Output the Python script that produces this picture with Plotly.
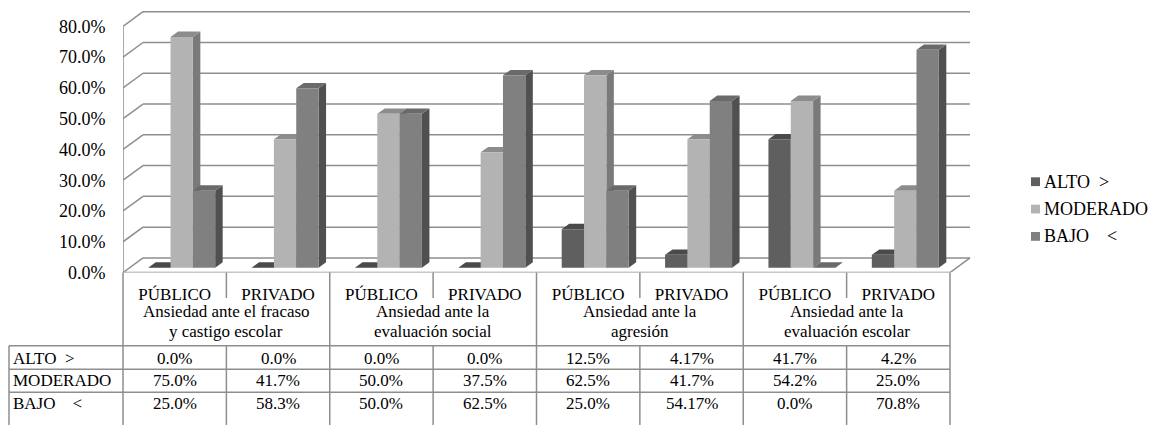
import plotly.graph_objects as go

# ---- data -------------------------------------------------------------
subcategorias = ["PÚBLICO", "PRIVADO", "PÚBLICO", "PRIVADO",
                 "PÚBLICO", "PRIVADO", "PÚBLICO", "PRIVADO"]
dimensiones = [
    ["Ansiedad ante el fracaso", "y castigo escolar"],
    ["Ansiedad ante la", "evaluación social"],
    ["Ansiedad ante la", "agresión"],
    ["Ansiedad ante la", "evaluación escolar"],
]
niveles = ["ALTO\u00a0\u00a0>", "MODERADO", "BAJO\u00a0\u00a0\u00a0\u00a0<"]
alto = [0.0, 0.0, 0.0, 0.0, 12.5, 4.17, 41.7, 4.2]
moderado = [75.0, 41.7, 50.0, 37.5, 62.5, 41.7, 54.2, 25.0]
bajo = [25.0, 58.3, 50.0, 62.5, 25.0, 54.17, 0.0, 70.8]
y_ticks = [0.0, 0.1, 0.2, 0.3, 0.4, 0.5, 0.6, 0.7, 0.8]

series = [alto, moderado, bajo]
# front / top / side shades for each level
caras = [
    ("#5f5f5f", "#4a4a4a", "#3d3d3d"),
    ("#b3b3b3", "#8c8c8c", "#7a7a7a"),
    ("#808080", "#6a6a6a", "#505050"),
]

# ---- geometry (pixels) ------------------------------------------------
W, H = 1150, 433
X0, COL, NCOL = 123, 103.375, 8          # front-left corner, column width
Y0, PXV = 279, 315                       # front floor line, px per 100 %
WALL_DX, WALL_DY = 20, 15                # depth of the 3-D box
BAR_DX, BAR_DY = 7, 5                    # bars sit slightly behind the front
DEP_DX, DEP_DY = 7.5, 5.5                # bar depth
BARGAP = 0.352
X_RIGHT, Y_TOP = 975, 8

ux, uy = 1 / COL, 1 / PXV
FONT = "Liberation Serif"
GRID = "#8e8e8e"
XR = X0 + COL * NCOL


def px(x):
    return x / W


def py(y):
    return 1 - y / H


fig = go.Figure()
shapes = []

# back wall gridlines and left wall diagonals
for v in y_ticks:
    shapes.append(dict(type="line", xref="x", yref="y", layer="below",
                       x0=WALL_DX * ux, x1=NCOL + WALL_DX * ux,
                       y0=v + WALL_DY * uy, y1=v + WALL_DY * uy,
                       line=dict(color=GRID, width=1.5)))
    shapes.append(dict(type="line", xref="x", yref="y", layer="below",
                       x0=0, x1=WALL_DX * ux, y0=v, y1=v + WALL_DY * uy,
                       line=dict(color=GRID, width=1.5)))
# front vertical axis line, floor front edge and right floor edge
shapes.append(dict(type="line", xref="x", yref="y", layer="below",
                   x0=0, x1=0, y0=0, y1=y_ticks[-1],
                   line=dict(color=GRID, width=1.5)))
shapes.append(dict(type="line", xref="x", yref="y", layer="below",
                   x0=0, x1=NCOL, y0=0, y1=0,
                   line=dict(color=GRID, width=1.5)))
shapes.append(dict(type="line", xref="x", yref="y", layer="below",
                   x0=NCOL, x1=NCOL + WALL_DX * ux, y0=0, y1=WALL_DY * uy,
                   line=dict(color=GRID, width=1.5)))

# bar tops and sides (fronts are the bar traces)
w = (1 - BARGAP) / 3
ddx, ddy = DEP_DX * ux, DEP_DY * uy
for i in range(NCOL):
    for j, vals in enumerate(series):
        x0 = i + 0.5 + BAR_DX * ux - (1 - BARGAP) / 2 + j * w
        x1 = x0 + w
        yb = BAR_DY * uy
        yt = yb + vals[i] / 100
        _, top, side = caras[j]
        shapes.append(dict(
            type="path", xref="x", yref="y", layer="below",
            path=f"M{x1},{yb} L{x1},{yt} L{x1 + ddx},{yt + ddy} L{x1 + ddx},{yb + ddy} Z",
            fillcolor=side, line=dict(width=0)))
        shapes.append(dict(
            type="path", xref="x", yref="y", layer="below",
            path=f"M{x0},{yt} L{x1},{yt} L{x1 + ddx},{yt + ddy} L{x0 + ddx},{yt + ddy} Z",
            fillcolor=top, line=dict(width=0)))

for j, vals in enumerate(series):
    fig.add_trace(go.Bar(
        x=[i + 0.5 + BAR_DX * ux for i in range(NCOL)],
        y=[v / 100 for v in vals],
        base=BAR_DY * uy,
        name=niveles[j],
        marker=dict(color=caras[j][0], line=dict(width=0)),
        showlegend=False,
    ))

# ---- data table -------------------------------------------------------
TBL = "#8e8e8e"
ROW_TOP, ROW_LINES, BOTTOM = 354, [378, 401.5], H + 2
LEFT_OUT = 9


def hline(y, xa, xb):
    shapes.append(dict(type="line", xref="paper", yref="paper",
                       x0=px(xa), x1=px(xb), y0=py(y), y1=py(y),
                       line=dict(color=TBL, width=1.5)))


def vline(x, ya, yb):
    shapes.append(dict(type="line", xref="paper", yref="paper",
                       x0=px(x), x1=px(x), y0=py(ya), y1=py(yb),
                       line=dict(color=TBL, width=1.5)))


hline(ROW_TOP, LEFT_OUT, XR)
for y in ROW_LINES:
    hline(y, LEFT_OUT, XR)
vline(LEFT_OUT, ROW_TOP, BOTTOM)
vline(X0, Y0, BOTTOM)
for k in range(1, NCOL + 1):
    xk = X0 + COL * k
    if k % 2 == 0:
        vline(xk, Y0, BOTTOM)
    else:
        vline(xk, Y0, 305)
        vline(xk, ROW_TOP, BOTTOM)

annotations = []
line_y = [318.5, 339]
for g, lines in enumerate(dimensiones):
    for r, txt in enumerate(lines):
        annotations.append(dict(
            xref="x", yref="paper", x=2 * g + 1, y=py(line_y[r]), text=txt,
            showarrow=False, xanchor="center", yanchor="middle",
            font=dict(family=FONT, size=17, color="#000")))

row_centers = [366.5, 390, 413.5]
for j, vals in enumerate(series):
    annotations.append(dict(
        xref="paper", yref="paper", x=px(LEFT_OUT + 2), y=py(row_centers[j]),
        text=niveles[j], showarrow=False, xanchor="left", yanchor="middle",
        font=dict(family=FONT, size=17, color="#000")))
    for i, v in enumerate(vals):
        annotations.append(dict(
            xref="x", yref="paper", x=i + 0.5, y=py(row_centers[j]),
            text=f"{v!r}%", showarrow=False, xanchor="center", yanchor="middle",
            font=dict(family=FONT, size=17, color="#000")))

# ---- legend -----------------------------------------------------------
leg_y = [186, 214, 242]
for j in range(3):
    shapes.append(dict(type="rect", xref="paper", yref="paper",
                       x0=px(1031), x1=px(1040),
                       y0=py(leg_y[j] + 4.5), y1=py(leg_y[j] - 4.5),
                       fillcolor=caras[j][0], line=dict(width=0)))
    annotations.append(dict(
        xref="paper", yref="paper", x=px(1042), y=py(leg_y[j]),
        text=niveles[j], showarrow=False, xanchor="left", yanchor="middle",
        font=dict(family=FONT, size=18, color="#000")))

fig.update_layout(
    width=W, height=H,
    margin=dict(l=0, r=0, t=0, b=0),
    font=dict(family=FONT, color="#000"),
    paper_bgcolor="white", plot_bgcolor="rgba(0,0,0,0)",
    barmode="group", bargap=BARGAP, bargroupgap=0,
    shapes=shapes, annotations=annotations,
    showlegend=False,
    xaxis=dict(
        domain=[px(X0), px(X_RIGHT)], range=[0, (X_RIGHT - X0) / COL],
        showgrid=False, zeroline=False, showline=False,
        tickmode="array", tickvals=[i + 0.5 for i in range(NCOL)],
        ticktext=subcategorias, ticks="outside", ticklen=6,
        tickcolor="rgba(0,0,0,0)",
        tickfont=dict(family=FONT, size=17, color="#000"),
    ),
    yaxis=dict(
        domain=[py(Y0), py(Y_TOP)], range=[0, (Y0 - Y_TOP) / PXV],
        showgrid=False, zeroline=False, showline=False,
        tickmode="array", tickvals=y_ticks, tickformat=".1%",
        ticks="outside", ticklen=13, tickcolor="rgba(0,0,0,0)",
        tickfont=dict(family=FONT, size=18, color="#000"),
    ),
)

fig.write_html(
    "out.html",
    config={"displayModeBar": False},
    post_script=(
        "var s = document.documentElement.style, b = document.body.style;"
        "s.margin = b.margin = '0'; s.padding = b.padding = '0';"
        "s.overflow = b.overflow = 'hidden';"
        "s.height = b.height = '433px';"
    ),
)
